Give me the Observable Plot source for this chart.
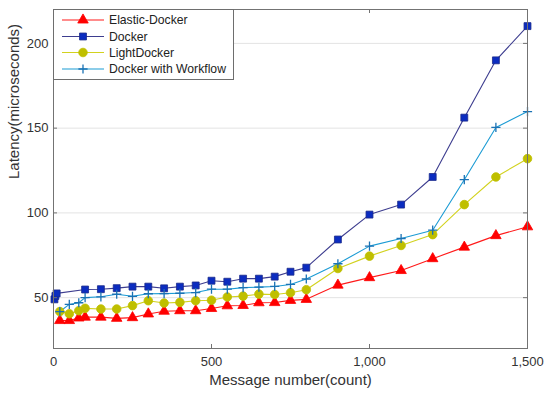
<!DOCTYPE html>
<html>
<head>
<meta charset="utf-8">
<script src="https://cdn.jsdelivr.net/npm/d3@7"></script>
<script src="https://cdn.jsdelivr.net/npm/@observablehq/plot@0.6"></script>
<style>
  html, body { margin: 0; padding: 0; background: #fff; }
  #chart { width: 550px; height: 399px; }
</style>
</head>
<body>
<div id="chart"></div>
<script>
// ---- data ----
const xMain = [20, 50, 80, 100, 150, 200, 250, 300, 350, 400, 450, 500, 550, 600, 650, 700, 750, 800, 900, 1000, 1100, 1200, 1300, 1400, 1500];
const xDocker = [3, 6, 10, 100, 150, 200, 250, 300, 350, 400, 450, 500, 550, 600, 650, 700, 750, 800, 900, 1000, 1100, 1200, 1300, 1400, 1500];

const elasticDocker = [36.5, 36.5, 38, 38.5, 38.5, 37.8, 38.2, 40.4, 42, 42.3, 42.3, 43.6, 45.2, 45.4, 47, 47.1, 48.4, 49, 57.4, 61.8, 66, 73, 79.8, 86.6, 91.8];
const docker = [49, 51, 52.5, 54.8, 55, 55.6, 56.5, 56.5, 55.5, 56.5, 57.2, 60, 59.4, 61.2, 61.2, 62.4, 65.3, 67.7, 84.3, 99, 104.9, 121.2, 156.2, 190, 210.2];
const lightDocker = [41.8, 40.5, 42.3, 43.7, 43.3, 43.3, 45.3, 48.2, 46.8, 47.2, 48.2, 48.5, 50.4, 50.9, 52.1, 51.9, 52.9, 54.7, 67.2, 74.5, 80.8, 87.2, 104.9, 121.2, 132];
const dockerWorkflow = [41.8, 46, 47, 50, 50.5, 52, 50.8, 52.3, 52.4, 52.6, 53, 55, 55, 55.9, 56.2, 56.6, 57.8, 61, 70, 80.4, 84.9, 89.8, 119.6, 150.4, 159.8];

const seriesNames = ["Elastic-Docker", "Docker", "LightDocker", "Docker with Workflow"];
const xTicks = [0, 500, 1000, 1500];
const yTicks = [50, 100, 150, 200];
const xLabel = "Message number(count)";
const yLabel = "Latency(microseconds)";

// ---- styles ----
const styles = {
  "Elastic-Docker": {line: "#ff1a1a", fill: "#ff0000", stroke: "#ff0000", symbol: "triangle", r: 3.9},
  "Docker": {line: "#3d3d8f", fill: "#0b2cc0", stroke: "#1a2a8a", symbol: "square", r: 3.9},
  "LightDocker": {line: "#d2d21e", fill: "#bfbf00", stroke: "#bfbf00", symbol: "circle", r: 4.3},
  "Docker with Workflow": {line: "#1b9bd4", fill: "none", stroke: "#1a72b4", symbol: "plus", r: 4.6}
};

const plusSymbol = {
  draw(context, size) {
    const r = Math.sqrt(size / Math.PI);
    context.moveTo(-r, 0); context.lineTo(r, 0);
    context.moveTo(0, -r); context.lineTo(0, r);
  }
};

const rows = [];
const addSeries = (name, xs, ys) => xs.forEach((x, i) => rows.push({series: name, x, y: ys[i]}));
addSeries("Elastic-Docker", xMain, elasticDocker);
addSeries("Docker", xDocker, docker);
addSeries("LightDocker", xMain, lightDocker);
addSeries("Docker with Workflow", xMain, dockerWorkflow);

const W = 550, H = 399, mL = 53, mR = 23, mT = 9, mB = 51;
const fw = W - mL - mR, fh = H - mT - mB;
const frameColor = "#737373";

const marks = [
  Plot.gridY(yTicks, {stroke: "#e3e3e3", strokeOpacity: 1})
];
for (const name of seriesNames) {
  const s = styles[name];
  const data = rows.filter(d => d.series === name);
  marks.push(Plot.line(data, {x: "x", y: "y", stroke: s.line, strokeWidth: 1.1}));
}
for (const name of seriesNames) {
  const s = styles[name];
  const data = rows.filter(d => d.series === name);
  if (s.symbol === "plus") {
    marks.push(Plot.dot(data, {x: "x", y: "y", symbol: plusSymbol, r: s.r, stroke: s.stroke, strokeWidth: 1.3, fill: "none"}));
  } else {
    marks.push(Plot.dot(data, {x: "x", y: "y", symbol: s.symbol, r: s.r, fill: s.fill, stroke: s.stroke, strokeWidth: 0.8}));
  }
}
marks.push(
  Plot.frame({stroke: frameColor}),
  Plot.tickX(xTicks, {x: d => d, insetTop: fh - 4, stroke: frameColor}),
  Plot.tickX(xTicks, {x: d => d, insetBottom: fh - 4, stroke: frameColor}),
  Plot.tickY(yTicks, {y: d => d, insetRight: fw - 4, stroke: frameColor}),
  Plot.tickY(yTicks, {y: d => d, insetLeft: fw - 4, stroke: frameColor}),
  Plot.axisX(xTicks, {tickSize: 0, tickPadding: 8, tickFormat: d3.format(","), label: null, fontSize: 13, fill: "#333"}),
  Plot.axisY(yTicks, {tickSize: 0, tickPadding: 5, label: null, fontSize: 13, fill: "#333"}),
  Plot.text([xLabel], {frameAnchor: "bottom", dy: 36, fontSize: 15, fill: "#333"}),
  Plot.text([yLabel], {frameAnchor: "left", dx: -39, rotate: -90, fontSize: 15, fill: "#333"})
);

const chart = Plot.plot({
  width: W, height: H,
  marginLeft: mL, marginRight: mR, marginTop: mT, marginBottom: mB,
  x: {domain: [0, 1500]},
  y: {domain: [20, 220]},
  style: {fontFamily: "'Liberation Sans', Arial, sans-serif", background: "#fff", color: "#333"},
  marks
});

// ---- legend (inside plot, top-left) ----
const svg = d3.select(chart);
const lg = svg.append("g")
  .attr("font-family", "'Liberation Sans', Arial, sans-serif")
  .attr("font-size", "12.2px")
  .attr("text-anchor", "start");
lg.append("rect").attr("x", 53.5).attr("y", 9.5).attr("width", 180).attr("height", 70)
  .attr("fill", "#fff").attr("stroke", "#6e6e6e");
const rowY = [20, 36.5, 52.5, 69];
const symMap = {triangle: d3.symbolTriangle, square: d3.symbolSquare, circle: d3.symbolCircle};
seriesNames.forEach((name, i) => {
  const s = styles[name];
  const y = rowY[i];
  lg.append("line").attr("x1", 62).attr("x2", 104).attr("y1", y).attr("y2", y)
    .attr("stroke", s.line).attr("stroke-width", 1.1);
  if (s.symbol === "plus") {
    lg.append("path").attr("transform", `translate(83,${y})`)
      .attr("d", d3.symbol(plusSymbol, Math.PI * s.r * s.r)())
      .attr("stroke", s.stroke).attr("stroke-width", 1.3).attr("fill", "none");
  } else {
    lg.append("path").attr("transform", `translate(83,${y})`)
      .attr("d", d3.symbol(symMap[s.symbol], Math.PI * s.r * s.r)())
      .attr("fill", s.fill).attr("stroke", s.stroke).attr("stroke-width", 0.8);
  }
  lg.append("text").attr("x", 109).attr("y", y).attr("dy", "0.35em")
    .attr("text-anchor", "start").attr("fill", "#222").text(name);
});

document.getElementById("chart").appendChild(chart);
</script>
</body>
</html>
